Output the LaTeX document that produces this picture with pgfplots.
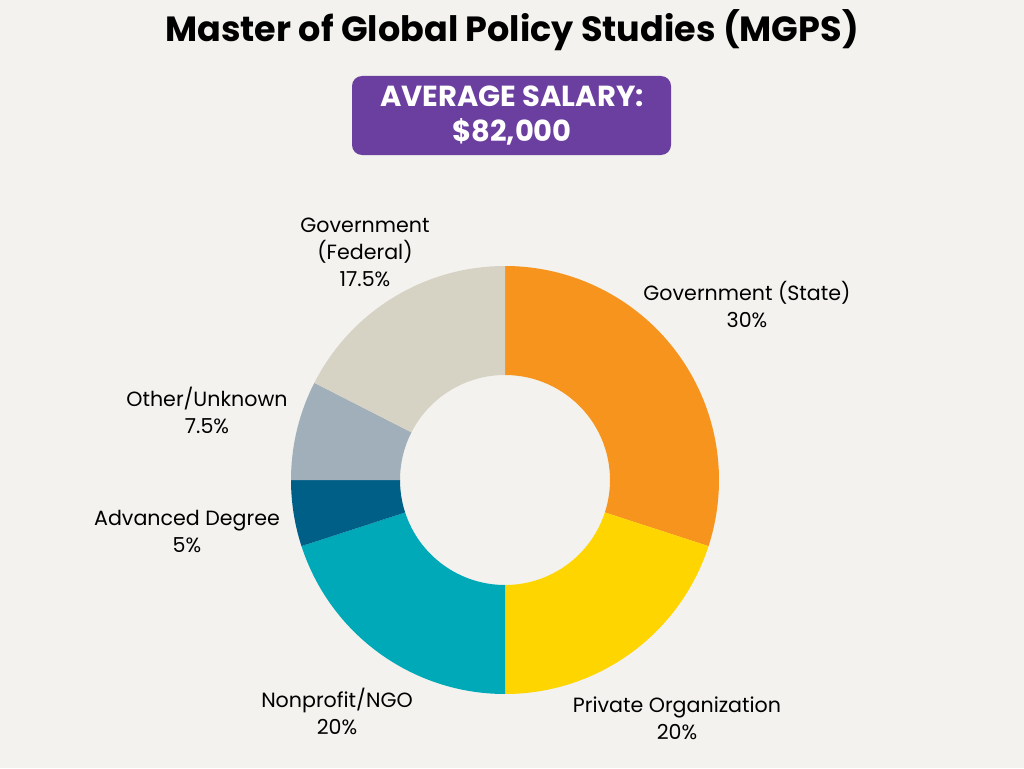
\documentclass[border=0pt]{standalone}
\usepackage{pgfplots}
\usepackage{pgfplotstable}
\pgfplotsset{compat=1.18}
\usepackage{fontspec}
\setmainfont{Poppins}

\definecolor{bg}{HTML}{F3F2EE}
\definecolor{boxpurple}{HTML}{6B3FA0}
\definecolor{cState}{HTML}{F7941D}
\definecolor{cPriv}{HTML}{FFD500}
\definecolor{cNgo}{HTML}{00A9B7}
\definecolor{cAdv}{HTML}{005F87}
\definecolor{cOther}{HTML}{A0AFBA}
\definecolor{cFed}{HTML}{D6D3C4}

% share of graduates by destination, clockwise from 12 o'clock
\pgfplotstableread{
value colour
30   cState
20   cPriv
20   cNgo
5    cAdv
7.5  cOther
17.5 cFed
}\slices

\begin{document}
\begin{tikzpicture}
\begin{axis}[
    x=0.5pt, y=0.5pt,
    xmin=0, xmax=1024, ymin=0, ymax=768,
    hide axis, clip=false,
    axis line style={draw=none},
]
% background
\fill[bg] (axis cs:0,0) rectangle (axis cs:1024,768);

% donut: outer radius 214px, inner radius 105px
\pgfplotstablegetrowsof{\slices}
\pgfmathtruncatemacro\nrows{\pgfplotsretval-1}
\gdef\angA{90}
\pgfplotsforeachungrouped \i in {0,...,\nrows}{
  \pgfplotstablegetelem{\i}{value}\of\slices \let\val\pgfplotsretval
  \pgfplotstablegetelem{\i}{colour}\of\slices \let\col\pgfplotsretval
  \pgfmathsetmacro\angB{\angA-3.6*\val}
  \edef\temp{\noexpand\fill[\col] (axis cs:505,288) ++(\angA:107pt)
    arc[start angle=\angA, end angle=\angB, radius=107pt]
    -- ++(\angB:-54.5pt)
    arc[start angle=\angB, end angle=\angA, radius=52.5pt] -- cycle;}
  \temp
  \global\let\angA\angB
}

% title and salary box
\node[font=\bfseries\fontsize{17.5}{20}\selectfont] at (axis cs:512,738) {Master of Global Policy Studies (MGPS)};
\fill[boxpurple, rounded corners=5pt] (axis cs:352,613) rectangle (axis cs:671,692);
\node[white, font=\bfseries\fontsize{14.5}{17.5}\selectfont, align=center] at (axis cs:512,652)
  {AVERAGE SALARY:\\\$82,000};

% slice labels
\begin{scope}[every node/.style={font=\fontsize{10.3}{13.5}\selectfont, align=center}]
\node at (axis cs:747,463) {Government (State)\\30\%};
\node at (axis cs:677,50) {Private Organization\\20\%};
\node at (axis cs:337,57) {Nonprofit/NGO\\20\%};
\node at (axis cs:187,237) {Advanced Degree\\5\%};
\node at (axis cs:207,358) {Other/Unknown\\7.5\%};
\node at (axis cs:365,516) {Government\\(Federal)\\17.5\%};
\end{scope}
\end{axis}
\end{tikzpicture}
\end{document}
